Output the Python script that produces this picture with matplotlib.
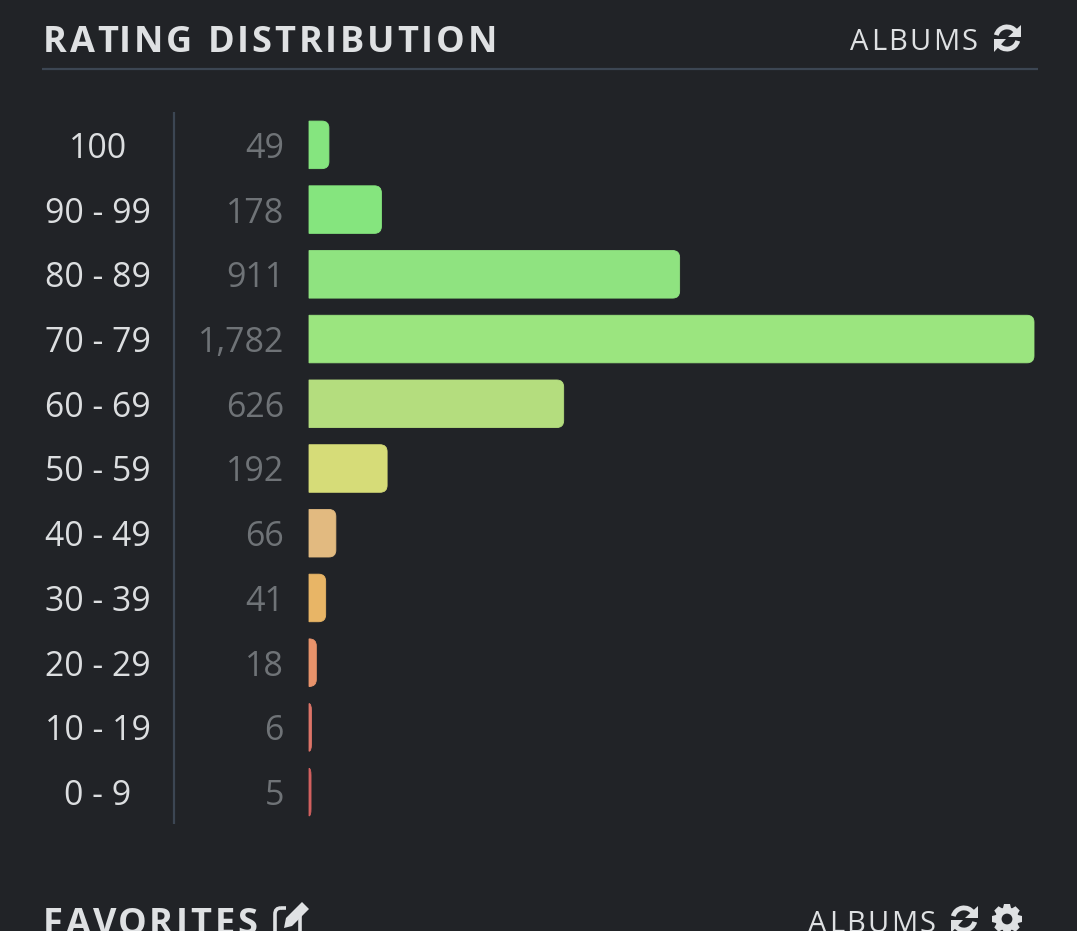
import numpy as np
import matplotlib
matplotlib.use('Agg')
import matplotlib.pyplot as plt
from matplotlib.patches import PathPatch, Wedge, Polygon, Circle, FancyBboxPatch, Rectangle
from matplotlib.path import Path
from matplotlib.text import Text
from matplotlib.textpath import text_to_path
from matplotlib.transforms import blended_transform_factory

categories = ['100', '90 - 99', '80 - 89', '70 - 79', '60 - 69', '50 - 59',
              '40 - 49', '30 - 39', '20 - 29', '10 - 19', '0 - 9']
counts = [49, 178, 911, 1782, 626, 192, 66, 41, 18, 6, 5]
bar_colors = ['#85e57f', '#85e57e', '#8fe380', '#9be57f', '#b4dd7e', '#d6dc78',
              '#e2ba80', '#e8b566', '#e8936b', '#dd7468', '#d2605f']

BG = '#212327'
RULE = '#3c4653'
W, H = 1077, 931
plt.rcParams['font.family'] = ['Open Sans', 'DejaVu Sans']


class SpacedText(Text):
    # matplotlib has no letter-spacing, so the glyphs get placed one by one
    def __init__(self, x, y, s, tracking=0, **kw):
        super().__init__(x, y, s, **kw)
        self.tracking = tracking

    def draw(self, renderer):
        s = self.get_text()
        prop = self.get_fontproperties()
        bar = text_to_path.get_text_width_height_descent('|', prop, False)[0]
        x0, y0 = self.get_transform().transform(self.get_position())
        scale = self.figure.dpi / 72
        for i, ch in enumerate(s):
            adv = text_to_path.get_text_width_height_descent(s[:i] + '|', prop, False)[0] - bar
            if i == 0:
                adv = 0
            piece = Text(x0 + adv * scale + i * self.tracking, y0, ch, fontproperties=prop,
                         color=self.get_color(), va='baseline', ha='left')
            piece.set_figure(self.figure)
            piece.set_clip_on(False)
            piece.draw(renderer)


def spaced(ax, x, y, s, size, color, tracking, weight='normal'):
    t = SpacedText(x, y, s, tracking=tracking, fontsize=size, color=color, fontweight=weight,
                   family=['Open Sans', 'DejaVu Sans'], transform=ax.transData)
    ax.add_artist(t)
    return t


def refresh_icon(ax, cx, cy, r, color):
    w = r * 0.36
    ax.add_patch(Wedge((cx, cy), r, 195, 325, width=w, fc=color, ec='none'))
    ax.add_patch(Wedge((cx, cy), r, 15, 145, width=w, fc=color, ec='none'))
    ax.add_patch(Polygon([(cx + r, cy - r), (cx + r, cy - 1), (cx + 1, cy - 1)], fc=color, ec='none'))
    ax.add_patch(Polygon([(cx - r, cy + r), (cx - r, cy + 1), (cx - 1, cy + 1)], fc=color, ec='none'))


def cog_icon(ax, cx, cy, r, color):
    ax.add_patch(Circle((cx, cy), r * 0.78, fc=color, ec='none'))
    for a in np.arange(8) * np.pi / 4:
        u = np.array([np.cos(a), np.sin(a)])
        v = np.array([-u[1], u[0]])
        c = np.array([cx, cy])
        ax.add_patch(Polygon([c + u * r * 0.6 + v * r * 0.3, c + u * r + v * r * 0.2,
                              c + u * r - v * r * 0.2, c + u * r * 0.6 - v * r * 0.3],
                             fc=color, ec='none'))
    ax.add_patch(Circle((cx, cy), r * 0.36, fc=BG, ec='none'))


def edit_icon(ax, x, y, color):
    ax.add_patch(FancyBboxPatch((x + 2, y + 7), 25, 32, boxstyle='round,pad=0,rounding_size=6',
                                fc='none', ec=color, lw=2.6))
    ax.add_patch(Rectangle((x + 13, y + 2), 22, 13, fc=BG, ec='none'))
    ax.add_patch(Polygon([(x + 29, y + 1), (x + 36, y + 8), (x + 19, y + 25), (x + 11, y + 27),
                          (x + 13, y + 17)], fc=color, ec='none'))


def bar_path(value, y, height, rx, ry):
    rx = min(rx, value)
    top, bot = y - height / 2, y + height / 2
    verts = [(0, top), (value - rx, top), (value, top), (value, top + ry),
             (value, bot - ry), (value, bot), (value - rx, bot), (0, bot), (0, top)]
    codes = [Path.MOVETO, Path.LINETO, Path.CURVE3, Path.CURVE3,
             Path.LINETO, Path.CURVE3, Path.CURVE3, Path.LINETO, Path.CLOSEPOLY]
    return Path(verts, codes)


fig = plt.figure(figsize=(W / 100, H / 100), dpi=100, facecolor=BG)

# overlay in pixel coordinates for header, rule and labels
px = fig.add_axes([0, 0, 1, 1])
px.set_xlim(0, W)
px.set_ylim(H, 0)
px.axis('off')

# the bars, 1782 ends at x=1034
left, right, top, bottom = 309, 1034, 112, 824
ax = fig.add_axes([left / W, 1 - (bottom + 0.5) / H, (right - left) / W, (bottom - top) / H])
ax.set_xlim(0, max(counts))
ax.set_ylim(len(counts) - 0.5, -0.5)
ax.axis('off')

rx = 7 * max(counts) / (right - left)
ry = 7 * len(counts) / (bottom - top)
for i, (c, col) in enumerate(zip(counts, bar_colors)):
    ax.add_patch(PathPatch(bar_path(c, i, 0.735, rx, ry), fc=col, ec=col, lw=0.6, clip_on=False))

trans = blended_transform_factory(px.transData, ax.transData)
for i, (name, c) in enumerate(zip(categories, counts)):
    px.text(98, i, name, transform=trans, ha='center', va='center_baseline', fontsize=24.3, color='#dcdee0')
    px.text(284, i, f'{c:,}', transform=trans, ha='right', va='center_baseline', fontsize=24.5, color='#6f7377')

px.plot([174, 174], [top, bottom], color=RULE, lw=1.6, solid_capstyle='butt')
px.plot([42, 1038], [69, 69], color=RULE, lw=1.6, solid_capstyle='butt')

LIGHT = '#dfe1e3'
spaced(px, 43, 52, 'RATING DISTRIBUTION', 26, LIGHT, 2.9, weight='bold')
spaced(px, 850, 50, 'ALBUMS', 21, LIGHT, 2.3)
refresh_icon(px, 1007, 38, 13.5, LIGHT)

spaced(px, 43, 934, 'FAVORITES', 26, LIGHT, 2.9, weight='bold')
edit_icon(px, 273, 901, LIGHT)
spaced(px, 808, 932, 'ALBUMS', 21, LIGHT, 2.3)
refresh_icon(px, 964, 919, 13.5, LIGHT)
cog_icon(px, 1007, 919, 15, LIGHT)

fig.savefig('out.png', dpi=100, facecolor=BG)
